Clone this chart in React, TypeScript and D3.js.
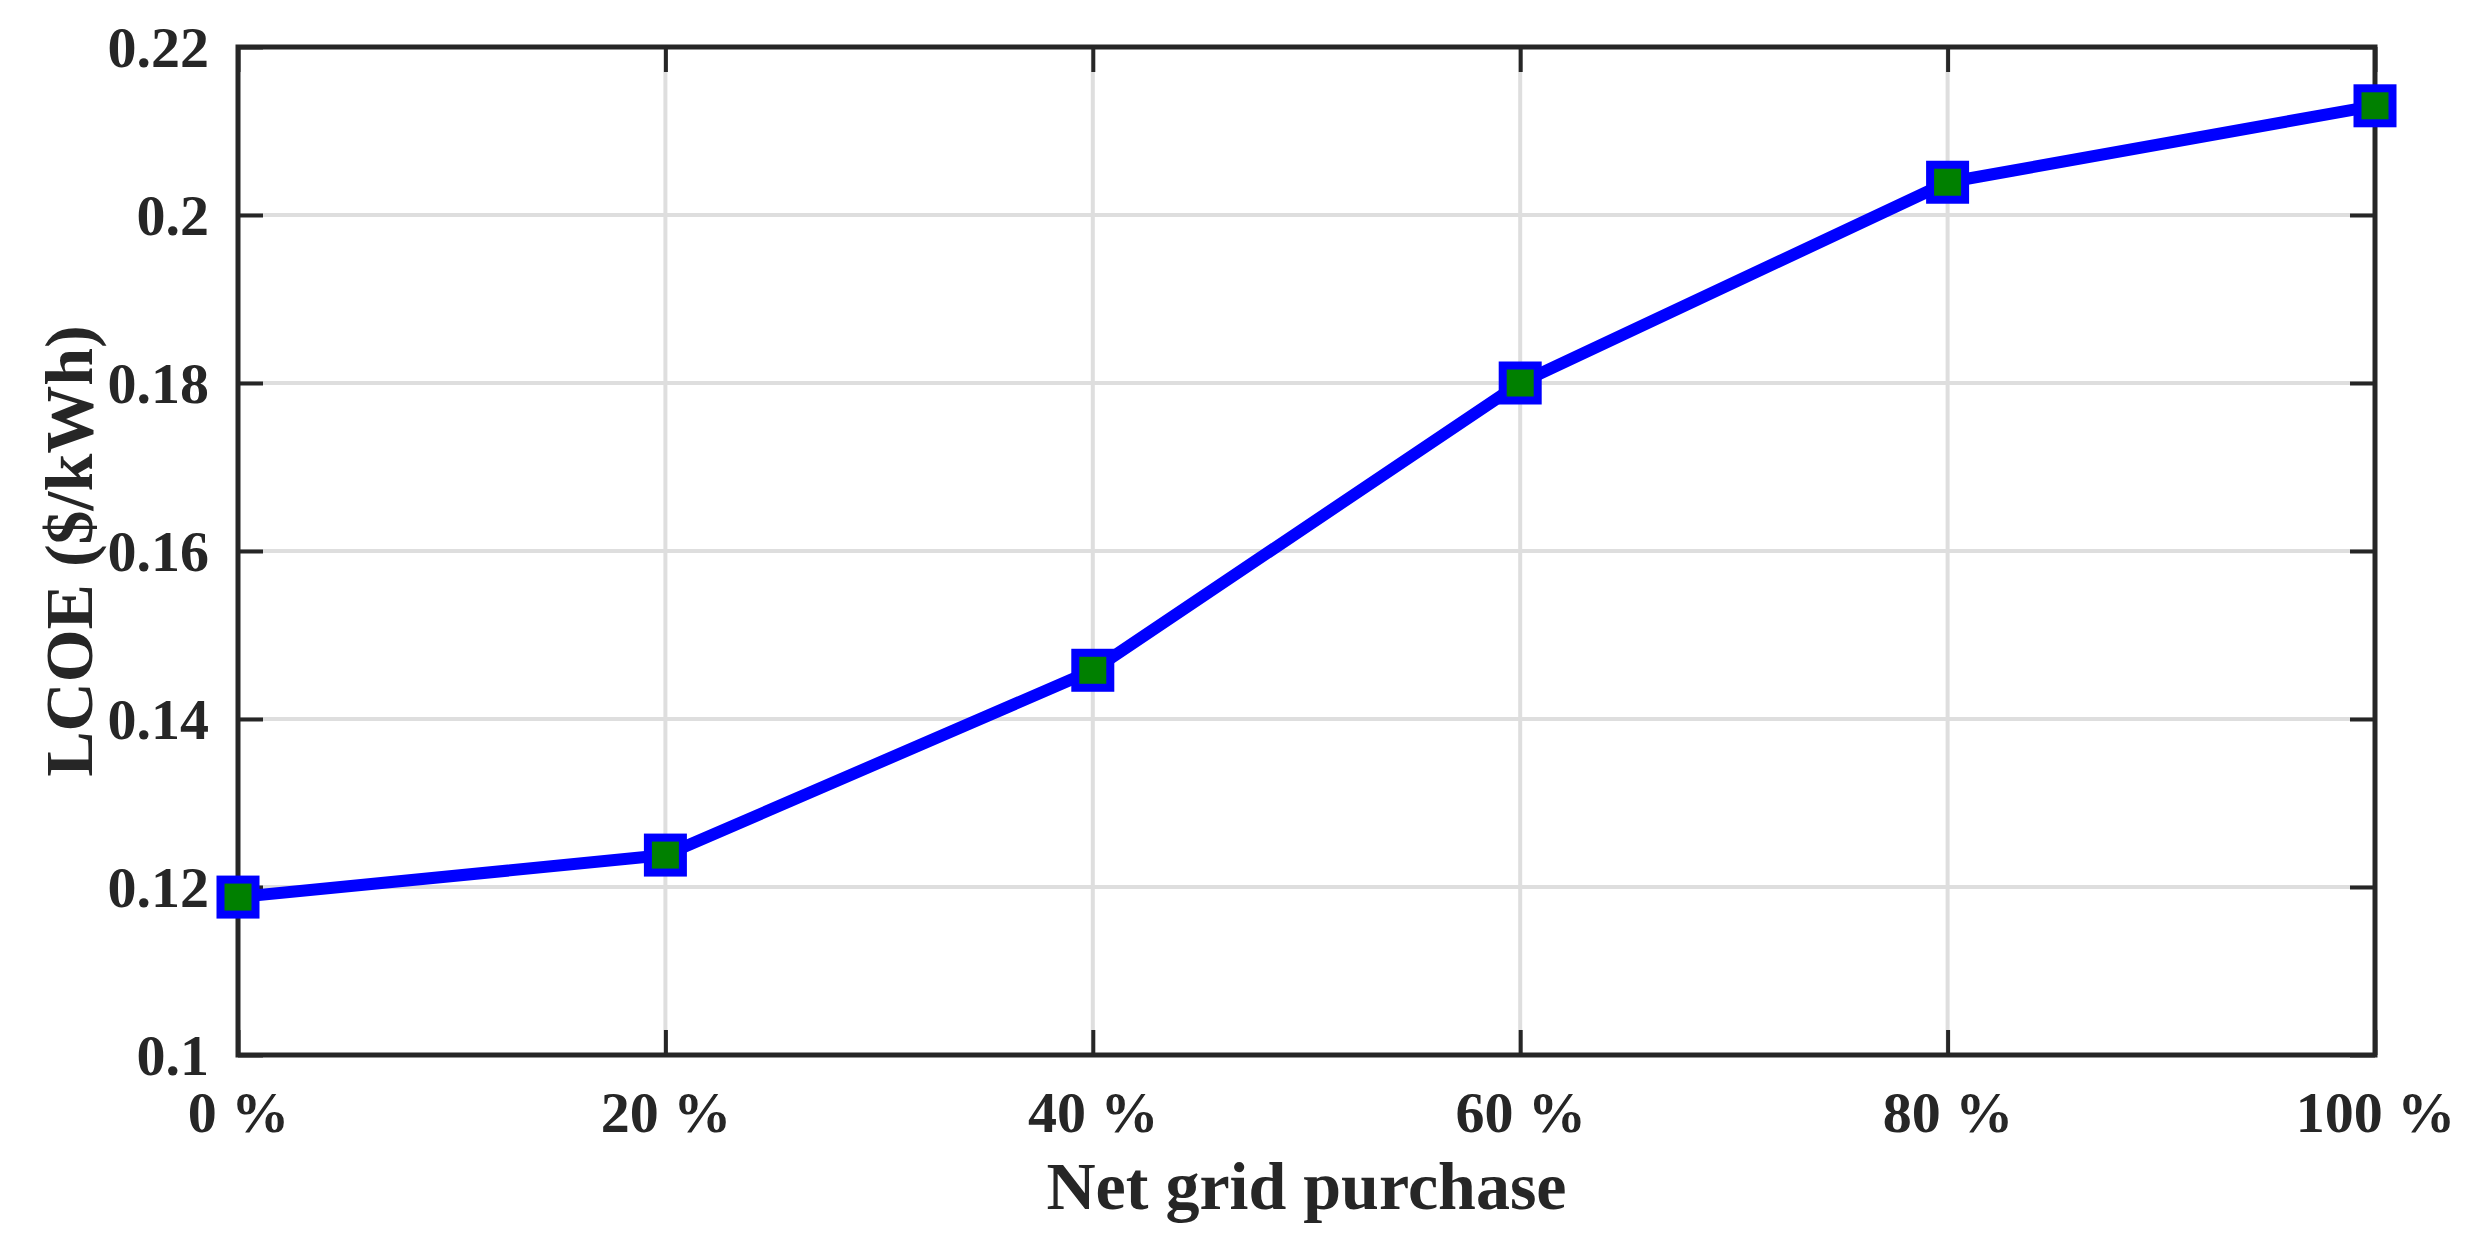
import React, { useRef, useEffect } from "react";
import { select, scaleLinear, line, axisBottom, axisLeft, axisTop, axisRight } from "d3";

// data
const gridShare = [0, 20, 40, 60, 80, 100];
const lcoe = [0.1188, 0.1238, 0.1458, 0.18, 0.2039, 0.213];
const yTicks = [0.1, 0.12, 0.14, 0.16, 0.18, 0.2, 0.22];
const yTickLabels = ["0.1", "0.12", "0.14", "0.16", "0.18", "0.2", "0.22"];
const xTickLabels = ["0 %", "20 %", "40 %", "60 %", "80 %", "100 %"];

const W = 2478;
const H = 1251;
const margin = { left: 238, right: 103, top: 47, bottom: 196 };

function App() {
  const svgRef = useRef(null);

  useEffect(() => {
    const svg = select(svgRef.current);
    svg.selectAll("*").remove();

    const iw = W - margin.left - margin.right;
    const ih = H - margin.top - margin.bottom;

    const x = scaleLinear().domain([0, 100]).range([0, iw]);
    const y = scaleLinear().domain([0.1, 0.22]).range([ih, 0]);

    const g = svg.append("g").attr("transform", `translate(${margin.left},${margin.top})`);

    // grid
    g.append("g")
      .selectAll("line.gx")
      .data(gridShare)
      .join("line")
      .attr("x1", (d) => x(d))
      .attr("x2", (d) => x(d))
      .attr("y1", 0)
      .attr("y2", ih)
      .attr("stroke", "#dedede")
      .attr("stroke-width", 4);
    g.append("g")
      .selectAll("line.gy")
      .data(yTicks)
      .join("line")
      .attr("x1", 0)
      .attr("x2", iw)
      .attr("y1", (d) => y(d))
      .attr("y2", (d) => y(d))
      .attr("stroke", "#dedede")
      .attr("stroke-width", 4);

    const font = "'Liberation Serif', 'Times New Roman', serif";

    // axes, ticks pointing inward
    const xa = axisBottom(x).tickValues(gridShare).tickSize(-25).tickPadding(77)
      .tickFormat((d, i) => xTickLabels[i]);
    const gx = g.append("g").attr("transform", `translate(0,${ih})`).call(xa);
    const ya = axisLeft(y).tickValues(yTicks).tickSize(-25).tickPadding(29)
      .tickFormat((d, i) => yTickLabels[i]);
    const gy = g.append("g").call(ya);
    const gt = g.append("g").call(axisTop(x).tickValues(gridShare).tickSize(-25).tickFormat(() => ""));
    const gr = g.append("g").attr("transform", `translate(${iw},0)`)
      .call(axisRight(y).tickValues(yTicks).tickSize(-25).tickFormat(() => ""));

    [gx, gy, gt, gr].forEach((a) => {
      a.select(".domain").remove();
      a.selectAll(".tick line").attr("stroke", "#262626").attr("stroke-width", 4);
      a.selectAll(".tick text")
        .attr("fill", "#262626")
        .style("font-family", font)
        .style("font-weight", "bold")
        .style("font-size", "58px");
    });
    gx.selectAll(".tick text").attr("dy", "0");
    gy.selectAll(".tick text").attr("dy", "0.34em");

    // box
    g.append("rect")
      .attr("x", 0)
      .attr("y", 0)
      .attr("width", iw)
      .attr("height", ih)
      .attr("fill", "none")
      .attr("stroke", "#262626")
      .attr("stroke-width", 5);

    // line + markers
    const pts = gridShare.map((d, i) => [d, lcoe[i]]);
    const myLine = line()
      .x((d) => x(d[0]))
      .y((d) => y(d[1]));
    g.append("path")
      .datum(pts)
      .attr("d", myLine)
      .attr("fill", "none")
      .attr("stroke", "#0000ff")
      .attr("stroke-width", 12)
      .attr("stroke-linejoin", "round");

    const ms = 35;
    g.selectAll("rect.mk")
      .data(pts)
      .join("rect")
      .attr("class", "mk")
      .attr("x", (d) => x(d[0]) - ms / 2)
      .attr("y", (d) => y(d[1]) - ms / 2)
      .attr("width", ms)
      .attr("height", ms)
      .attr("fill", "#008000")
      .attr("stroke", "#0000ff")
      .attr("stroke-width", 8);

    // titles
    svg.append("text")
      .attr("x", margin.left + iw / 2)
      .attr("y", 1209)
      .attr("text-anchor", "middle")
      .attr("fill", "#262626")
      .style("font-family", font)
      .style("font-weight", "bold")
      .style("font-size", "68px")
      .text("Net grid purchase");

    svg.append("text")
      .attr("transform", `translate(92,${margin.top + ih / 2}) rotate(-90)`)
      .attr("text-anchor", "middle")
      .attr("fill", "#262626")
      .style("font-family", font)
      .style("font-weight", "bold")
      .style("font-size", "68px")
      .text("LCOE ($/kWh)");
  }, []);

  return (
    <svg
      ref={svgRef}
      width={W}
      height={H}
      style={{ position: "absolute", left: 0, top: 0, background: "#fff" }}
    ></svg>
  );
}

export default App;
